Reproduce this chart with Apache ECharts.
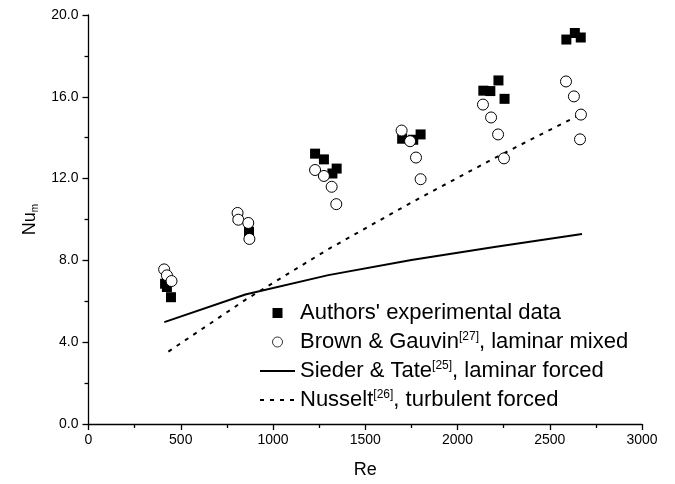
<!DOCTYPE html>
<html>
<head>
<meta charset="utf-8">
<script src="https://cdn.jsdelivr.net/npm/echarts@6/dist/echarts.min.js"></script>
<style>
  html, body { margin: 0; padding: 0; background: #fff; }
  #chart { width: 675px; height: 484px; }
</style>
</head>
<body>
<div id="chart"></div>
<script>
// Authors' experimental data (Re, Nu_m)
const authorsRe = [415, 425, 447, 810, 870, 1228, 1276, 1322, 1345, 1700, 1760, 1800, 2140, 2178, 2222, 2255, 2590, 2636, 2668];
const authorsNu = [6.86, 6.70, 6.20, 10.10, 9.40, 13.22, 12.94, 12.25, 12.49, 13.95, 13.90, 14.16, 16.30, 16.28, 16.80, 15.90, 18.80, 19.12, 18.90];

// Brown & Gauvin, laminar mixed convection
const brownRe = [410, 425, 450, 808, 812, 866, 872, 1228, 1276, 1318, 1343, 1697, 1743, 1775, 1800, 2138, 2182, 2220, 2252, 2588, 2631, 2669, 2664];
const brownNu = [7.56, 7.27, 6.99, 10.32, 9.99, 9.83, 9.05, 12.42, 12.13, 11.60, 10.75, 14.35, 13.83, 13.03, 11.97, 15.62, 14.99, 14.16, 12.99, 16.75, 16.02, 15.13, 13.92];

// Sieder & Tate, laminar forced convection
const siederRe = [411, 850, 1300, 1750, 2200, 2675];
const siederNu = [4.98, 6.33, 7.28, 8.02, 8.65, 9.29];

// Nusselt, turbulent forced convection
const nusseltRe = [433, 850, 1300, 1750, 2200, 2664];
const nusseltNu = [3.54, 6.07, 8.55, 10.83, 13.00, 15.13];

// Axis ticks
const xTicks = [0, 500, 1000, 1500, 2000, 2500, 3000];
const yTicks = [0, 4, 8, 12, 16, 20];

const names = {
  authors: "Authors' experimental data",
  brown: "Brown & Gauvin, laminar mixed",
  sieder: "Sieder & Tate, laminar forced",
  nusselt: "Nusselt, turbulent forced"
};
const legendText = {};
legendText[names.authors] = "Authors' experimental data";
legendText[names.brown] = "Brown & Gauvin{sup|[27]}, laminar mixed";
legendText[names.sieder] = "Sieder & Tate{sup|[25]}, laminar forced";
legendText[names.nusselt] = "Nusselt{sup|[26]}, turbulent forced";

const pairs = (xs, ys) => xs.map((x, i) => [x, ys[i]]);
const font = "'Liberation Sans', Arial, sans-serif";

const chart = echarts.init(document.getElementById('chart'), null, { renderer: 'canvas' });
chart.setOption({
  animation: false,
  backgroundColor: '#fff',
  grid: { left: 88.5, right: 33, top: 15, bottom: 58 },
  textStyle: { fontFamily: font, color: '#000' },
  xAxis: {
    type: 'value',
    min: xTicks[0], max: xTicks[xTicks.length - 1], interval: 500,
    name: 'Re', nameLocation: 'middle', nameGap: 37,
    nameTextStyle: { fontSize: 18, fontFamily: font, color: '#000' },
    axisLine: { show: true, onZero: false, lineStyle: { color: '#000', width: 1.3 } },
    axisTick: { show: true, inside: false, length: 6, lineStyle: { color: '#000', width: 1.3 } },
    minorTick: { show: true, splitNumber: 2, length: 4, lineStyle: { color: '#000', width: 1.3 } },
    axisLabel: { fontSize: 14, fontFamily: font, color: '#000', margin: 9, formatter: v => String(v) },
    splitLine: { show: false }
  },
  yAxis: {
    type: 'value',
    min: yTicks[0], max: yTicks[yTicks.length - 1], interval: 4,
    name: '{a|Nu}{b|m}', nameLocation: 'middle', nameGap: 42, nameRotate: 90,
    nameTextStyle: {
      fontFamily: font, color: '#000',
      rich: {
        a: { fontSize: 18, fontFamily: font, color: '#000' },
        b: { fontSize: 10, fontFamily: font, color: '#000', padding: [10, 0, 0, 0] }
      }
    },
    axisLine: { show: true, onZero: false, lineStyle: { color: '#000', width: 1.3 } },
    axisTick: { show: true, inside: false, length: 6, lineStyle: { color: '#000', width: 1.3 } },
    minorTick: { show: true, splitNumber: 2, length: 4, lineStyle: { color: '#000', width: 1.3 } },
    axisLabel: { fontSize: 14, fontFamily: font, color: '#000', margin: 10, formatter: v => v.toFixed(1) },
    splitLine: { show: false }
  },
  legend: {
    orient: 'vertical',
    left: 259, top: 301, padding: 0,
    itemWidth: 35, itemHeight: 10, itemGap: 5,
    data: [
      { name: names.authors, icon: 'path://M0,0L10,0L10,10L0,10Z' },
      { name: names.brown, icon: 'circle', itemStyle: { borderWidth: 0.8 } },
      { name: names.sieder, itemStyle: { opacity: 0 } },
      { name: names.nusselt, itemStyle: { opacity: 0 } }
    ],
    symbolKeepAspect: true,
    formatter: n => legendText[n],
    textStyle: {
      fontSize: 22, fontFamily: font, color: '#000', lineHeight: 24,
      rich: {
        sup: { fontSize: 12, fontFamily: font, color: '#000', padding: [0, 0, 10, 0] }
      }
    }
  },
  series: [
    {
      name: names.sieder, type: 'line', data: pairs(siederRe, siederNu),
      symbol: 'none', lineStyle: { color: '#000', width: 2 }, itemStyle: { color: '#000' }, z: 2
    },
    {
      name: names.nusselt, type: 'line', data: pairs(nusseltRe, nusseltNu),
      symbol: 'none', lineStyle: { color: '#000', width: 2, type: [4, 6] }, itemStyle: { color: '#000' }, z: 2
    },
    {
      name: names.authors, type: 'scatter', data: pairs(authorsRe, authorsNu),
      symbol: 'rect', symbolSize: 10, itemStyle: { color: '#000', opacity: 1 }, z: 3
    },
    {
      name: names.brown, type: 'scatter', data: pairs(brownRe, brownNu),
      symbol: 'circle', symbolSize: 11,
      itemStyle: { color: '#fff', borderColor: '#000', borderWidth: 1, opacity: 1 }, z: 4
    }
  ]
});
</script>
</body>
</html>
